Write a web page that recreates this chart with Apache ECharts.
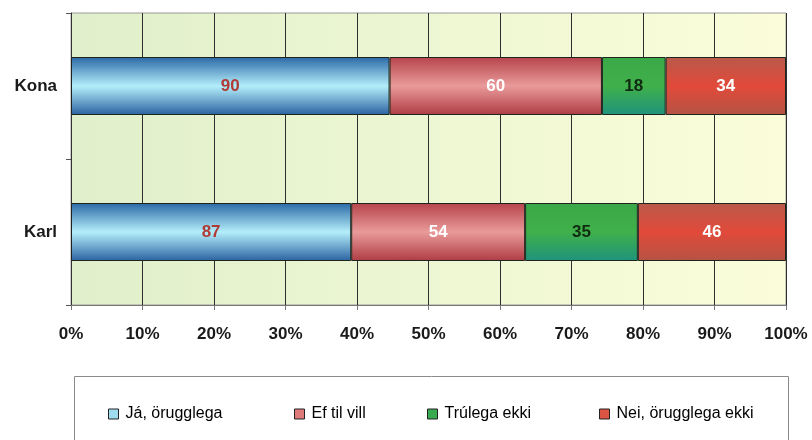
<!DOCTYPE html>
<html>
<head>
<meta charset="utf-8">
<script src="https://cdn.jsdelivr.net/npm/echarts@6/dist/echarts.min.js"></script>
<style>
  html, body { margin: 0; padding: 0; background: #fff; }
  #chart { width: 812px; height: 440px; }
</style>
</head>
<body>
<div id="chart"></div>
<script>
// categories bottom -> top
const categories = ["Karl", "Kona"];
const seriesNames = ["Já, örugglega", "Ef til vill", "Trúlega ekki", "Nei, örugglega ekki"];
const jaValues = [87, 90];
const efValues = [54, 60];
const trulegaValues = [35, 18];
const neiValues = [46, 34];
const xTicks = [0, 10, 20, 30, 40, 50, 60, 70, 80, 90, 100];

const raw = [jaValues, efValues, trulegaValues, neiValues];
const totals = categories.map((c, i) => raw.reduce((s, arr) => s + arr[i], 0));

function vgrad(edge, mid, edge2) {
  return new echarts.graphic.LinearGradient(0, 0, 0, 1, [
    { offset: 0, color: edge },
    { offset: 0.5, color: mid },
    { offset: 1, color: edge2 || edge },
  ]);
}

const fills = [
  vgrad("#2a68a6", "#b4eefb", "#2a62a0"),
  vgrad("#b6444c", "#e99a9a", "#ae3c44"),
  vgrad("#3aa848", "#40b04a", "#1f937c"),
  vgrad("#b85a4a", "#e2493a", "#b45444"),
];
const iconFills = ["#9fdcf0", "#e07a7a", "#3aaa50", "#dc5444"];
const labelColors = ["#b03a34", "#ffffff", "#102a12", "#ffffff"];

const series = raw.map((arr, k) => ({
  name: seriesNames[k],
  type: "bar",
  stack: "all",
  barWidth: 58,
  data: arr.map((v, i) => (v / totals[i]) * 100),
  itemStyle: { color: fills[k], borderColor: "#1e241e", borderWidth: 1 },
  label: {
    show: true,
    position: "inside",
    formatter: (p) => String(arr[p.dataIndex]),
    color: labelColors[k],
    fontSize: 17,
    fontWeight: "bold",
    fontFamily: "Liberation Sans",
  },
}));

const legendLefts = [103, 289, 422, 594];
const legends = seriesNames.map((n, k) => ({
  data: [{ name: n, itemStyle: { color: iconFills[k], borderColor: "#222", borderWidth: 1 } }],
  left: legendLefts[k],
  top: 401,
  icon: "rect",
  itemWidth: 10,
  itemHeight: 10,
  selectedMode: false,
  textStyle: { fontSize: 16, color: "#000", fontFamily: "Liberation Sans", padding: [0, 0, 0, 2] },
}));

const myChart = echarts.init(document.getElementById("chart"));
myChart.setOption({
  animation: false,
  graphic: [
    {
      type: "rect",
      shape: { x: 74.5, y: 376.5, width: 714, height: 80 },
      style: { fill: "#fff", stroke: "#8a8a8a", lineWidth: 1 },
      z: -1,
    },
  ],
  legend: legends,
  grid: {
    left: 71,
    right: 26,
    top: 13,
    bottom: 135,
    show: true,
    borderColor: "#9a9a9a",
    borderWidth: 1,
    backgroundColor: new echarts.graphic.LinearGradient(0, 0, 1, 0, [
      { offset: 0, color: "#e0efcb" },
      { offset: 1, color: "#fbfdda" },
    ]),
  },
  xAxis: {
    type: "value",
    min: xTicks[0],
    max: xTicks[xTicks.length - 1],
    interval: 10,
    axisLine: { show: true, lineStyle: { color: "#777" } },
    axisTick: { show: true, length: 5, lineStyle: { color: "#777" } },
    splitLine: { show: true, lineStyle: { color: "#2e2e2e", width: 1 } },
    axisLabel: {
      formatter: "{value}%",
      fontSize: 17,
      fontWeight: "bold",
      color: "#1a1a1a",
      fontFamily: "Liberation Sans",
      margin: 21,
    },
  },
  yAxis: {
    type: "category",
    data: categories,
    axisLine: { show: true, lineStyle: { color: "#333" } },
    axisTick: { show: true, length: 5, lineStyle: { color: "#555" } },
    axisLabel: {
      fontSize: 17,
      fontWeight: "bold",
      color: "#1a1a1a",
      fontFamily: "Liberation Sans",
      margin: 14,
    },
  },
  series: series,
});
</script>
</body>
</html>
